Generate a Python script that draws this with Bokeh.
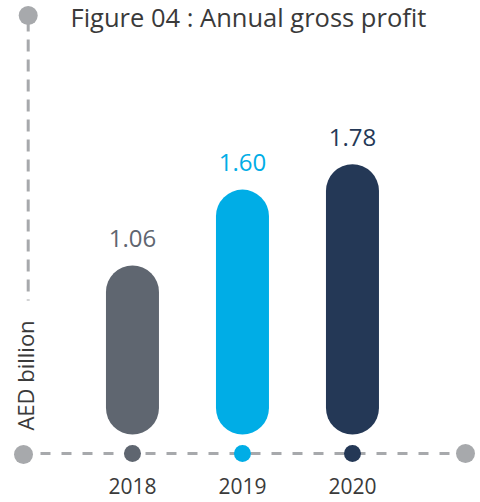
import math
from bokeh.plotting import figure
from bokeh.models import Range1d
from bokeh.core.properties import value
from bokeh.embed import file_html
from bokeh.resources import INLINE

# ---- data ----
years = ["2018", "2019", "2020"]
profit = [1.06, 1.60, 1.78]
value_labels = ["1.06", "1.60", "1.78"]
bar_colors = ["#5f6670", "#00ade6", "#243856"]
title_text = "Figure 04 : Annual gross profit"
unit_label = "AED billion"

FONT = value("Open Sans")
AXIS_GREY = "#a7a9ac"
TEXT_DARK = "#3a3a3a"

# ---- scales (page pixel helpers for decorations) ----
W, H = 480, 502
PX_X = 110.0      # pixels per category step
PX_Y = 140.4      # pixels per AED billion
X0 = -1.127 - 8 / PX_X
Y_TOP = 2.890 + 8 / PX_Y


def sx(px):
    return X0 + px / PX_X


def sy(py):
    return Y_TOP - py / PX_Y


p = figure(width=W, height=H, output_backend="svg", toolbar_location=None,
           x_range=Range1d(X0, X0 + W / PX_X),
           y_range=Range1d(Y_TOP - H / PX_Y, Y_TOP),
           min_border=0, outline_line_color=None,
           background_fill_color="white", border_fill_color="white")
p.axis.visible = False
p.grid.visible = False

idx = list(range(len(years)))

# ---- axis decorations ----
p.line([sx(40), sx(458)], [sy(453), sy(453)], line_color=AXIS_GREY,
       line_width=3, line_dash="10 11")
p.line([sx(27.7), sx(27.7)], [sy(19), sy(300)], line_color=AXIS_GREY,
       line_width=3, line_dash="12 8")
p.scatter([sx(23), sx(465), sx(27.7)], [sy(454), sy(453), sy(15)],
          size=19, color=AXIS_GREY, line_color=None)

# ---- rounded bars ----
base = sy(434)
cap = 26.5 / PX_Y
p.segment(x0=idx, y0=[base + cap] * len(idx), x1=idx,
          y1=[v - cap for v in profit], line_color=bar_colors,
          line_width=53, line_cap="round")

# ---- dots on baseline ----
p.scatter(idx, [sy(453)] * len(idx), size=17, color=bar_colors, line_color=None)

# ---- value labels ----
p.text(x=idx, y=profit, text=value_labels, y_offset=-27,
       text_align="center", text_baseline="alphabetic",
       text_font=FONT, text_font_size="24px", text_color=bar_colors)

# ---- year labels ----
p.text(x=idx, y=[sy(485)] * len(idx), text=years,
       text_align="center", text_baseline="alphabetic",
       text_font=FONT, text_font_size="21px", text_color=TEXT_DARK)

# ---- title and unit ----
p.text(x=[sx(70)], y=[sy(16)], text=[title_text], text_align="left",
       text_baseline="alphabetic", text_font=FONT, text_font_size="25.5px",
       text_color=TEXT_DARK)
p.text(x=[sx(24)], y=[sy(375)], text=[unit_label], angle=math.pi / 2,
       text_align="center", text_baseline="middle", text_font=FONT,
       text_font_size="22px", text_color=TEXT_DARK)

open("out.html", "w").write(file_html(p, INLINE))
